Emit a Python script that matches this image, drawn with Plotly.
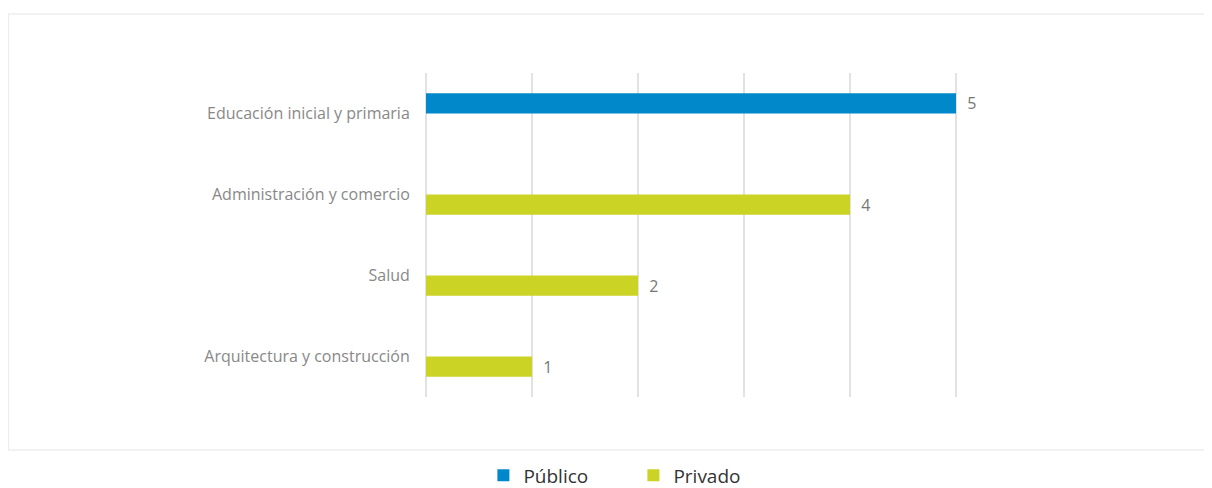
import plotly.graph_objects as go

categorias = ["Educación inicial y primaria", "Administración y comercio",
              "Salud", "Arquitectura y construcción"]
publico = [5, None, None, None]
privado = [None, 4, 2, 1]

C_PUB = "#0088CA"
C_PRIV = "#CBD324"
C_TEXT = "#888888"

fig = go.Figure()
for name, vals, color in [("Público", publico, C_PUB), ("Privado", privado, C_PRIV)]:
    fig.add_trace(go.Bar(
        y=categorias, x=vals, name=name, orientation="h",
        marker=dict(color=color, line=dict(width=0)),
        text=[f"  {v}" if v is not None else "" for v in vals],
        textposition="outside", cliponaxis=False, constraintext="none",
        textfont=dict(color="#777777", size=16, family="Open Sans"),
    ))

fig.update_layout(
    width=1212, height=488,
    margin=dict(l=418, r=158, t=65, b=99),
    paper_bgcolor="white", plot_bgcolor="white",
    barmode="group", bargap=0.5, bargroupgap=0,
    font=dict(family="Open Sans", color=C_TEXT, size=16),
    showlegend=True,
    legend=dict(orientation="h", xref="container", x=0.516, xanchor="center",
                yref="container", y=0.042, yanchor="middle",
                font=dict(color="#333333", size=19), entrywidth=105,
                entrywidthmode="pixels", traceorder="normal"),
    shapes=[dict(type="rect", xref="paper", yref="paper",
                 x0=-0.6565, x1=1.2366, y0=-0.1636, y1=1.182,
                 line=dict(color="#EEEEEE", width=1.5), layer="below")],
)
fig.update_xaxes(range=[0, 6], dtick=1, showticklabels=False, showgrid=True,
                 gridcolor="#E2E2E2", gridwidth=1.5, zeroline=True,
                 zerolinecolor="#E2E2E2", zerolinewidth=1.5, showline=False)
fig.update_yaxes(autorange="reversed", showgrid=False, ticks="outside",
                 ticklen=12, tickcolor="rgba(0,0,0,0)", tickfont=dict(color=C_TEXT, size=16))

fig.write_html("out.html")
